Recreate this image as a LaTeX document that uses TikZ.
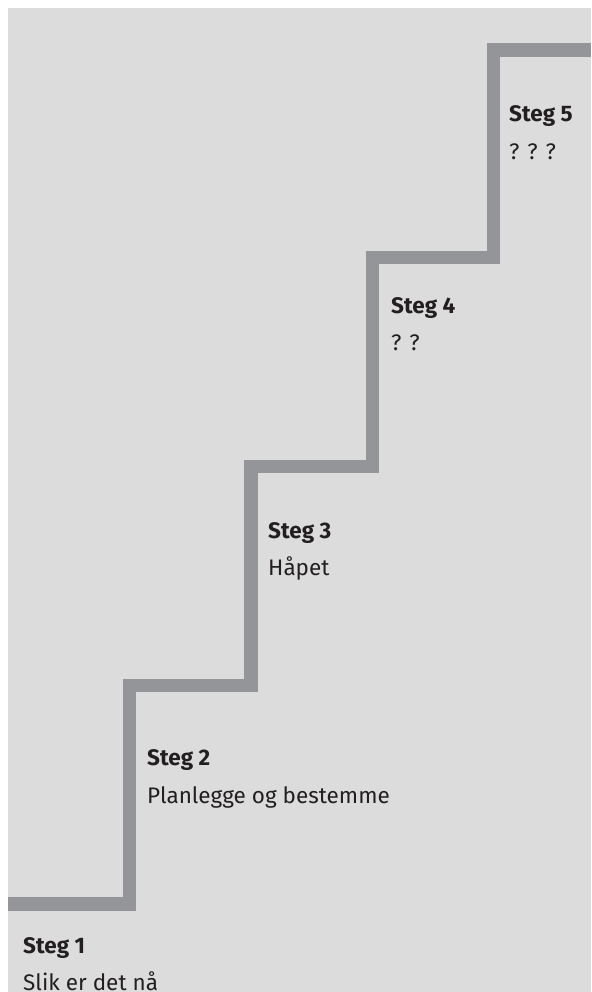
\documentclass[tikz,border=0pt]{standalone}
\usepackage{fontspec}
\setmainfont{Fira Sans}
\definecolor{bg}{HTML}{DCDCDD}
\definecolor{stair}{HTML}{939598}
\definecolor{txt}{HTML}{231F20}
\begin{document}
\begin{tikzpicture}[x=1pt,y=-1pt,
  stairline/.style={draw=stair,line width=13.5pt},
  ttl/.style={anchor=base west,inner sep=0pt,text=txt,font=\fontsize{22.5}{26}\selectfont\bfseries},
  sub/.style={anchor=base west,inner sep=0pt,text=txt,font=\fontsize{22.5}{26}\selectfont}]
\useasboundingbox (0,0) rectangle (591,992);
\fill[white] (0,0) rectangle (591,992);
\fill[bg] (8,8) rectangle (591,992);
\begin{scope}
\clip (8,8) rectangle (591,992);
\coordinate (s0) at (8,904);
\coordinate (s1) at (129.5,904);
\coordinate (s2) at (129.5,685.5);
\coordinate (s3) at (251,685.5);
\coordinate (s4) at (251,466.5);
\coordinate (s5) at (372.5,466.5);
\coordinate (s6) at (372.5,257.5);
\coordinate (s7) at (493.5,257.5);
\coordinate (s8) at (493.5,50);
\coordinate (s9) at (591,50);
\draw[stairline,line join=miter] (s0) -- (s1) -- (s2) -- (s3) -- (s4) -- (s5) -- (s6) -- (s7) -- (s8) -- (s9);
\end{scope}
\node[ttl] (t1) at (23,953) {Steg 1};
\node[sub] (d1) at (23,990) {Slik er det nå};
\node[ttl] (t2) at (147,765) {Steg 2};
\node[sub] (d2) at (147,803) {Planlegge og bestemme};
\node[ttl] (t3) at (268,538) {Steg 3};
\node[sub] (d3) at (268,575) {Håpet};
\node[ttl] (t4) at (391,313) {Steg 4};
\node[sub] (d4) at (391,350) {? ?};
\node[ttl] (t5) at (509,122) {Steg 5};
\node[sub] (d5) at (509,160) {? ? ?};
\end{tikzpicture}
\end{document}
